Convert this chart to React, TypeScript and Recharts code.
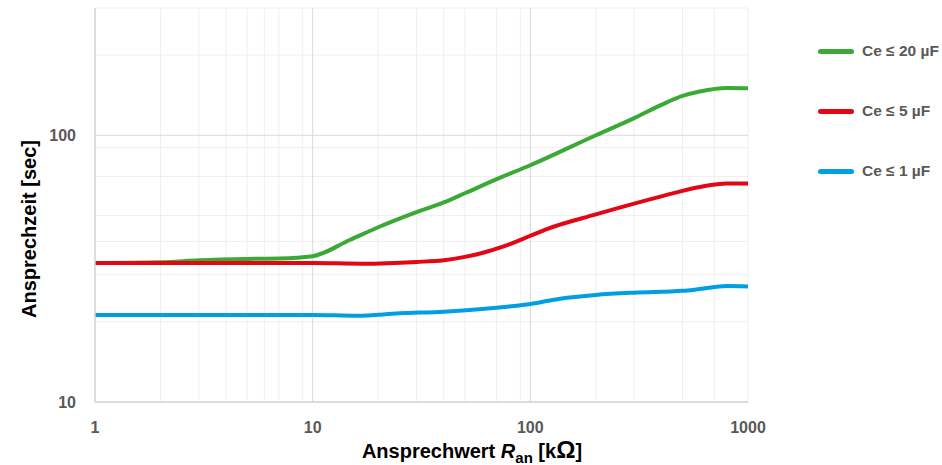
import { CartesianGrid, Label, Legend, Line, LineChart, XAxis, YAxis } from "recharts"

// Ansprechwert R_an [kΩ] -> Ansprechzeit [sec]
const green20uF = [
    { r: 1, t: 33.2 }, { r: 2, t: 33.4 }, { r: 3, t: 34 }, { r: 5, t: 34.4 }, { r: 7, t: 34.5 },
    { r: 10, t: 35.2 }, { r: 14.8, t: 40.5 }, { r: 20, t: 45.2 }, { r: 30, t: 51.5 }, { r: 40, t: 56 },
    { r: 50, t: 60.6 }, { r: 70, t: 68.5 }, { r: 100, t: 77.2 }, { r: 200, t: 100 }, { r: 300, t: 116 },
    { r: 400, t: 130 }, { r: 500, t: 140.5 }, { r: 600, t: 146 }, { r: 800, t: 150.5 }, { r: 1000, t: 150 },
]
const red5uF = [
    { r: 1, t: 33.2 }, { r: 5, t: 33.2 }, { r: 10, t: 33.2 }, { r: 17, t: 33 }, { r: 30, t: 33.5 },
    { r: 40, t: 34 }, { r: 50, t: 35 }, { r: 60, t: 36.2 }, { r: 70, t: 37.6 }, { r: 80, t: 39 },
    { r: 100, t: 42 }, { r: 120, t: 44.6 }, { r: 200, t: 50.5 }, { r: 400, t: 59 }, { r: 600, t: 64 },
    { r: 800, t: 66 }, { r: 1000, t: 66 },
]
const blue1uF = [
    { r: 1, t: 21.2 }, { r: 5, t: 21.2 }, { r: 10, t: 21.2 }, { r: 16, t: 21.05 }, { r: 25, t: 21.5 },
    { r: 40, t: 21.8 }, { r: 60, t: 22.3 }, { r: 80, t: 22.8 }, { r: 100, t: 23.3 }, { r: 137, t: 24.4 },
    { r: 200, t: 25.2 }, { r: 300, t: 25.7 }, { r: 500, t: 26.1 }, { r: 600, t: 26.5 }, { r: 800, t: 27.2 },
    { r: 1000, t: 27.1 },
]

const seriesNames = ["Ce ≤ 20 µF", "Ce ≤ 5 µF", "Ce ≤ 1 µF"]
const COLORS = ["#3aaa35", "#e30613", "#009fe3"]

const xTicks = [1, 10, 100, 1000]
const yTicks = [10, 100]
const xMinor = [2, 3, 4, 5, 6, 7, 8, 9, 20, 30, 40, 50, 60, 70, 80, 90, 200, 300, 400, 500, 600, 700, 800, 900, 1000]
const yMinor = [20, 30, 40, 50, 60, 70, 80, 90, 200, 300]
const xMajor = [10, 100]
const yMajor = [100]

const FONT = "'Liberation Sans', Arial, sans-serif"

const CustomLegend = () => (
    <div style={{ position: "absolute", left: 70, top: 0 }}>
        {seriesNames.map((name, i) => (
            <div key={name} style={{ position: "absolute", top: 51 - 8 + i * 60 - 9, left: 0, display: "flex", alignItems: "center", whiteSpace: "nowrap" }}>
                <div style={{ width: 36, height: 5, borderRadius: 3, background: COLORS[i] }} />
                <span style={{ marginLeft: 8, fontFamily: FONT, fontWeight: 700, fontSize: 15.5, color: "#595959" }}>{name}</span>
            </div>
        ))}
    </div>
)

const YTitle = () => (
    <text x={29} y={229} transform="rotate(-90, 29, 229)" textAnchor="middle" dominantBaseline="central"
        style={{ fontFamily: FONT, fontWeight: 700, fontSize: 20, fill: "#000" }}>
        Ansprechzeit [sec]
    </text>
)

const XTitle = () => (
    <text x={472} y={458} textAnchor="middle" style={{ fontFamily: FONT, fontWeight: 700, fontSize: 20, fill: "#000" }}>
        Ansprechwert <tspan fontStyle="italic">R</tspan>
        <tspan dy={5} fontSize={15}>an</tspan>
        <tspan dy={-5}> [k</tspan>
        <tspan fontSize={24}>Ω</tspan>
        <tspan>]</tspan>
    </text>
)

export default function App() {
    return (
        <div style={{ position: "absolute", left: 0, top: 0, width: 942, height: 465, background: "#fff" }}>
            <LineChart width={942} height={465} margin={{ top: 8, right: 194, left: 0, bottom: 0 }}>
                <CartesianGrid stroke="#efefef" strokeWidth={1} horizontalValues={yMinor} verticalValues={xMinor} />
                <CartesianGrid stroke="#d9d9d9" strokeWidth={1} horizontalValues={yMajor} verticalValues={xMajor} />
                <XAxis dataKey="r" type="number" scale="log" domain={[1, 1000]} ticks={xTicks} allowDataOverflow
                    height={63} tickLine={false} axisLine={{ stroke: "#d0d0d0", strokeWidth: 1.5 }} tickMargin={14}
                    tick={{ fontFamily: FONT, fontWeight: 700, fontSize: 16, fill: "#595959" }}>
                    <Label content={<XTitle />} />
                </XAxis>
                <YAxis dataKey="t" type="number" scale="log" domain={[10, 300]} ticks={yTicks} allowDataOverflow
                    width={95} tickLine={false} axisLine={{ stroke: "#d0d0d0", strokeWidth: 1.5 }} tickMargin={13}
                    tick={{ fontFamily: FONT, fontWeight: 700, fontSize: 16, fill: "#595959" }}>
                    <Label content={<YTitle />} />
                </YAxis>
                <Legend layout="vertical" align="right" verticalAlign="top" content={<CustomLegend />} />
                {[green20uF, red5uF, blue1uF].map((d, i) => (
                    <Line key={seriesNames[i]} data={d} dataKey="t" name={seriesNames[i]} type="monotone"
                        stroke={COLORS[i]} strokeWidth={4} dot={false} activeDot={false} isAnimationActive={false} />
                ))}
            </LineChart>
        </div>
    )
}
